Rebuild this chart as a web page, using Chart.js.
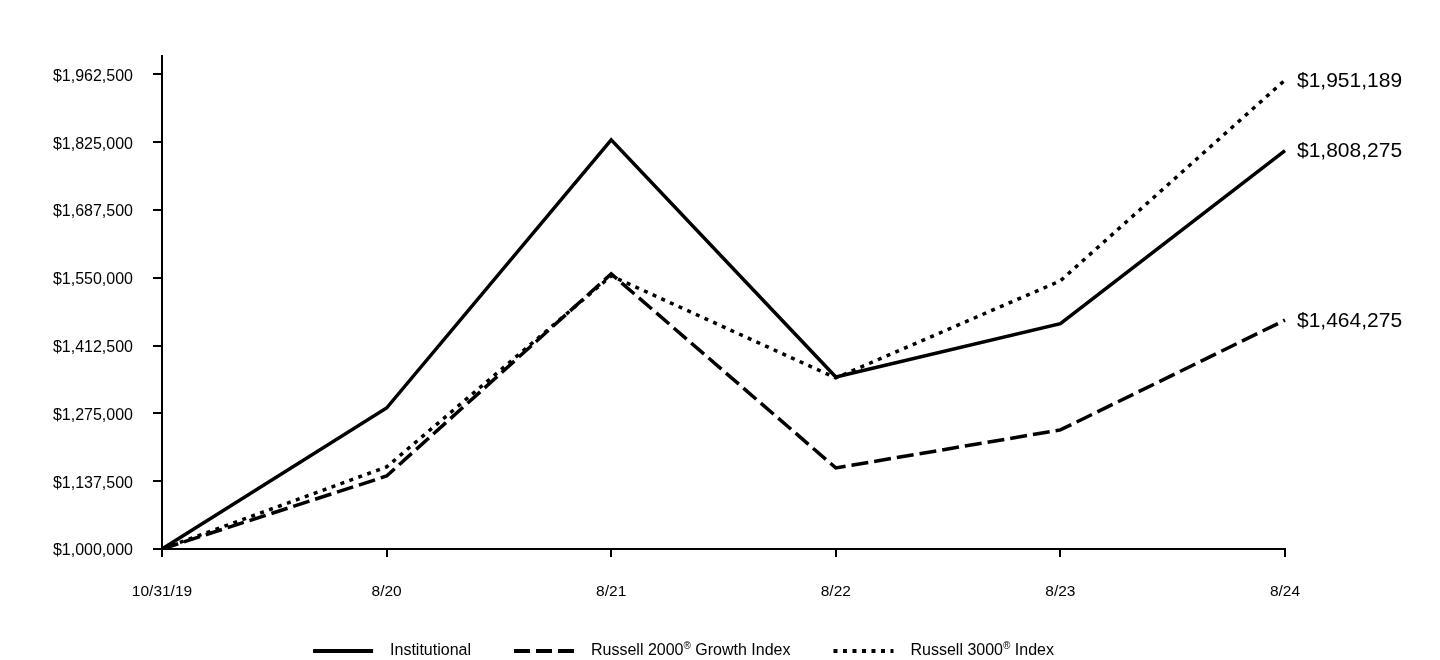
<!DOCTYPE html>
<html>
<head>
    <title>Growth of $1,000,000</title>
    <style>
        body {
            margin: 0;
            padding: 0;
            background-color: #ffffff;
        }
    </style>
    <script src="https://cdn.jsdelivr.net/npm/chart.js"></script>
</head>
<body>
    <canvas id="growthChart" width="1440" height="660"></canvas>
    <script>
        const labels = ['10/31/19', '8/20', '8/21', '8/22', '8/23', '8/24'];
        const institutional = [1000000, 1286000, 1830000, 1349000, 1457000, 1808275];
        const russell2000Growth = [1000000, 1148000, 1558000, 1164500, 1241500, 1464275];
        const russell3000 = [1000000, 1166500, 1554000, 1347000, 1544000, 1951189];
        const yTicks = [1000000, 1137500, 1275000, 1412500, 1550000, 1687500, 1825000, 1962500];

        const FONT = "'Liberation Sans', Arial, sans-serif";

        function money(v) {
            return '$' + Math.round(v).toLocaleString('en-US');
        }

        // value labels at the right end of each line
        const endLabels = {
            id: 'endLabels',
            afterDatasetsDraw(chart) {
                const ctx = chart.ctx;
                ctx.save();
                ctx.font = '21px ' + FONT;
                ctx.fillStyle = '#000';
                ctx.textAlign = 'left';
                ctx.textBaseline = 'middle';
                chart.data.datasets.forEach((ds, i) => {
                    const pts = chart.getDatasetMeta(i).data;
                    const last = pts[pts.length - 1];
                    ctx.fillText(money(ds.data[ds.data.length - 1]), last.x + 12, last.y + 1);
                });
                ctx.restore();
            }
        };

        // text with a small raised ® sign
        function labelParts(text) {
            return text.split('®').map((s, i, arr) => i < arr.length - 1 ? [s, '®'] : [s]).flat().filter(s => s !== '');
        }
        function measureLabel(ctx, text) {
            let w = 0;
            labelParts(text).forEach(p => {
                ctx.font = (p === '®' ? '10px ' : '16px ') + FONT;
                w += ctx.measureText(p).width;
            });
            return w;
        }
        function drawLabel(ctx, text, x, y) {
            labelParts(text).forEach(p => {
                const sup = p === '®';
                ctx.font = (sup ? '10px ' : '16px ') + FONT;
                ctx.fillText(p, x, sup ? y - 5 : y);
                x += ctx.measureText(p).width;
            });
        }

        // legend drawn under the axis, line sample + text
        const bottomLegend = {
            id: 'bottomLegend',
            afterDraw(chart) {
                const ctx = chart.ctx;
                const sample = 60, gapText = 17, gapItem = 43;
                ctx.save();
                const items = chart.data.datasets.map(ds => ({
                    ds: ds,
                    w: sample + gapText + measureLabel(ctx, ds.label)
                }));
                const total = items.reduce((s, it) => s + it.w, 0) + gapItem * (items.length - 1);
                const center = (chart.chartArea.left + chart.chartArea.right) / 2 - 40;
                let x = center - total / 2;
                const y = 651;
                items.forEach(it => {
                    ctx.beginPath();
                    ctx.setLineDash(it.ds.legendDash || []);
                    ctx.lineWidth = 4;
                    ctx.lineCap = 'butt';
                    ctx.strokeStyle = '#000';
                    ctx.moveTo(x, y);
                    ctx.lineTo(x + sample, y);
                    ctx.stroke();
                    ctx.setLineDash([]);
                    ctx.fillStyle = '#000';
                    ctx.textBaseline = 'middle';
                    drawLabel(ctx, it.ds.label, x + sample + gapText, y);
                    x += it.w + gapItem;
                });
                ctx.restore();
            }
        };

        new Chart(document.getElementById('growthChart'), {
            type: 'line',
            data: {
                labels: labels,
                datasets: [{
                    label: 'Institutional',
                    data: institutional,
                    borderColor: '#000',
                    borderWidth: 3.5,
                    legendDash: []
                }, {
                    label: 'Russell 2000® Growth Index',
                    data: russell2000Growth,
                    borderColor: '#000',
                    borderWidth: 3.5,
                    borderDash: [17, 6],
                    legendDash: [16, 6]
                }, {
                    label: 'Russell 3000® Index',
                    data: russell3000,
                    borderColor: '#000',
                    borderWidth: 3.5,
                    borderDash: [4, 5.5],
                    legendDash: [4, 5.5]
                }]
            },
            options: {
                responsive: false,
                animation: false,
                elements: {
                    point: { radius: 0 },
                    line: { tension: 0, borderCapStyle: 'butt', fill: false }
                },
                layout: {
                    padding: { left: 0, right: 155, top: 56, bottom: 51 }
                },
                plugins: {
                    legend: { display: false },
                    tooltip: { enabled: false }
                },
                scales: {
                    x: {
                        offset: false,
                        grid: {
                            drawOnChartArea: false,
                            color: '#000',
                            lineWidth: 2,
                            tickLength: 8
                        },
                        border: { color: '#000', width: 2 },
                        ticks: {
                            color: '#000',
                            font: { family: FONT, size: 15.5 },
                            padding: 25,
                            maxRotation: 0
                        },
                        afterFit(scale) { scale.height = 60; }
                    },
                    y: {
                        min: 1000000,
                        max: 2000000,
                        grid: {
                            drawOnChartArea: false,
                            color: '#000',
                            lineWidth: 2,
                            tickLength: 9
                        },
                        border: { color: '#000', width: 2 },
                        ticks: {
                            color: '#000',
                            font: { family: FONT, size: 16 },
                            padding: 20,
                            labelOffset: 2,
                            callback: v => money(v)
                        },
                        afterBuildTicks(scale) {
                            scale.ticks = yTicks.map(v => ({ value: v }));
                        },
                        afterFit(scale) { scale.width = 162; }
                    }
                }
            },
            plugins: [endLabels, bottomLegend]
        });
    </script>
</body>
</html>
